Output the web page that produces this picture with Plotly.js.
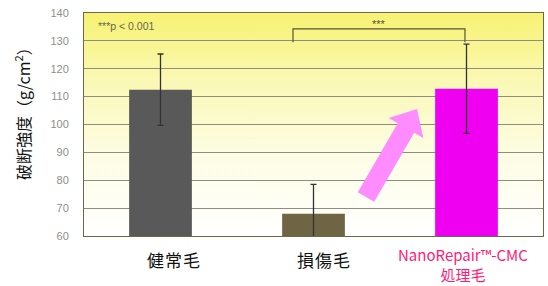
<!DOCTYPE html>
<html><head><meta charset="utf-8">
<script src="https://cdn.plot.ly/plotly-3.0.1.min.js"></script>
<style>html,body{margin:0;padding:0;background:#fff;}#c{width:548px;height:286px;}</style>
</head><body><div id="c"></div>
<script>
const categories = ['健常毛', '損傷毛', 'NanoRepair™-CMC処理毛'];
const labels = ['健\u200a常\u200a毛', '損\u200a傷\u200a毛', 'NanoRepair™-CMC<br>処理毛'];
const labelColors = ['#111111', '#111111', '#ff1a75'];
const strength = [112.5, 68, 112.8];
const errors = [12.8, 10.5, 16];
const barColors = ['#595959', '#6e6545', '#f000f0'];
const yTitle = '破断強度（g/cm<sup>2</sup>）';
const pNote = '***p < 0.001';
const sigMark = '***';

const grad = 'data:image/svg+xml;utf8,' + encodeURIComponent(
 '<svg xmlns="http://www.w3.org/2000/svg" width="10" height="100" preserveAspectRatio="none">' +
 '<defs><linearGradient id="g" x1="0" y1="0" x2="0" y2="1">' +
 '<stop offset="0" stop-color="#f7f272"/><stop offset="0.3" stop-color="#faf8b4"/>' +
 '<stop offset="0.65" stop-color="#fdfde6"/><stop offset="1" stop-color="#ffffff"/></linearGradient></defs>' +
 '<rect width="10" height="100" fill="url(#g)"/></svg>');

// arrow geometry in pixels -> paper
const L = 84, B = 236, W = 459, H = 223;
function arrowPath(tx, ty, hx, hy, sw, hw, hl) {
  const dx = hx - tx, dy = hy - ty, len = Math.hypot(dx, dy);
  const ux = dx / len, uy = dy / len, nx = -uy, ny = ux;
  const bx = hx - ux * hl, by = hy - uy * hl;
  const pts = [
    [tx + nx * sw, ty + ny * sw], [bx + nx * sw, by + ny * sw], [bx + nx * hw, by + ny * hw],
    [hx, hy], [bx - nx * hw, by - ny * hw], [bx - nx * sw, by - ny * sw], [tx - nx * sw, ty - ny * sw]
  ];
  return 'M ' + pts.map(p => ((p[0] - L) / W).toFixed(4) + ' ' + ((B - p[1]) / H).toFixed(4)).join(' L ') + ' Z';
}

const trace = {
  type: 'bar', x: categories, y: strength,
  marker: {color: barColors, line: {width: 0}},
  error_y: {type: 'data', array: errors, visible: true, color: '#333', thickness: 1.3, width: 3},
  width: 0.41
};

const labelDx = [0.082, 0.065, -0.023];
const labelTop = [246, 246, 243];
const labelSize = [17, 17, 15];
const annotations = [
  {text: yTitle, xref: 'paper', yref: 'paper', x: -0.135, y: 0.565, textangle: -90, showarrow: false,
   xanchor: 'center', yanchor: 'middle', font: {size: 16, color: '#111'}},
  {text: pNote, xref: 'paper', yref: 'y', x: 0.026, y: 135.3, xanchor: 'left', yanchor: 'middle',
   showarrow: false, font: {size: 10.5, color: '#66664a', family: 'Arial, sans-serif'}},
  {text: sigMark, xref: 'x', yref: 'y', x: 1.43, y: 136.0, xanchor: 'center', yanchor: 'middle',
   showarrow: false, font: {size: 11, color: '#555533', family: 'Arial, sans-serif'}}
];
categories.forEach((c, i) => {
  annotations.push({text: labels[i], xref: 'x', yref: 'paper', x: i + labelDx[i], y: (B - labelTop[i]) / H,
    xanchor: 'center', yanchor: 'top', showarrow: false, borderpad: 0,
    font: {size: labelSize[i], color: labelColors[i]}});
});

const layout = {
  width: 548, height: 286,
  margin: {l: 84, r: 5, t: 13, b: 50},
  paper_bgcolor: '#ffffff', plot_bgcolor: 'rgba(0,0,0,0)',
  showlegend: false,
  font: {family: '"Noto Sans CJK JP", "Noto Sans", sans-serif'},
  xaxis: {type: 'category', showticklabels: false, ticks: '',
    showline: true, mirror: true, linecolor: '#6a6a4a', linewidth: 1},
  yaxis: {range: [60, 140], dtick: 10, tickfont: {size: 11, color: '#8e8e8e', family: 'Arial, sans-serif'},
    showgrid: true, gridcolor: '#8e8e80', gridwidth: 1, zeroline: false, ticks: '', ticklabelstandoff: 12,
    showline: true, mirror: true, linecolor: '#6a6a4a', linewidth: 1},
  images: [{source: grad, xref: 'paper', yref: 'paper', x: 0, y: 1, sizex: 1, sizey: 1,
    sizing: 'stretch', layer: 'below', xanchor: 'left', yanchor: 'top'}],
  shapes: [
    {type: 'path', xref: 'x', yref: 'y', path: 'M 0.866 129.5 L 0.866 134.3 L 1.99 134.3 L 1.99 129.5',
     line: {color: '#555533', width: 1.2}},
    {type: 'path', xref: 'paper', yref: 'paper', layer: 'above', path: arrowPath(366, 197, 417, 109, 9.5, 20, 22),
     fillcolor: '#ff8cff', line: {width: 0}}
  ],
  annotations: annotations
};
Plotly.newPlot('c', [trace], layout, {displayModeBar: false, staticPlot: true});
</script></body></html>
